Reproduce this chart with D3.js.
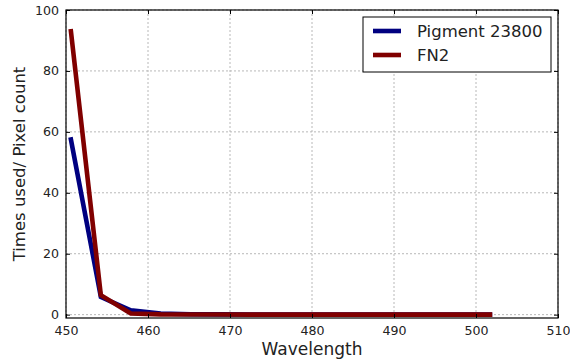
<!DOCTYPE html>
<html>
<head>
<meta charset="utf-8">
<script src="https://cdn.jsdelivr.net/npm/d3@7"></script>
<style>
  html, body { margin: 0; padding: 0; background: #fff; }
  svg { display: block; font-family: "DejaVu Sans", sans-serif; }
</style>
</head>
<body>
<svg id="chart" width="570" height="362"></svg>
<script>
// Wavelength samples (nm) and per-series counts
const wavelengths = [450.6, 454.25, 457.9, 461.55, 465.2, 468.85, 472.5, 476.15, 479.8, 483.45, 487.1, 490.75, 494.4, 498.05, 501.7];
const pigmentValues = [57.5, 5.8, 1.4, 0.4, 0.15, 0.1, 0.05, 0.05, 0.03, 0.02, 0.02, 0.01, 0.01, 0.01, 0.01];
const fn2Values = [93.0, 6.4, 0.4, 0.1, 0.05, 0.03, 0.02, 0.01, 0.01, 0.01, 0.01, 0.01, 0.0, 0.0, 0.0];
const seriesNames = ["Pigment 23800", "FN2"];
const xTicks = [450, 460, 470, 480, 490, 500, 510];
const yTicks = [0, 20, 40, 60, 80, 100];

const margin = { left: 66, right: 12, top: 10, bottom: 44 };
const W = 570, H = 362;
const svg = d3.select("#chart");

const x = d3.scaleLinear().domain([450, 510]).range([margin.left, W - margin.right]);
const y = d3.scaleLinear().domain([-1.1, 100]).range([H - margin.bottom, margin.top]);

const x0 = x.range()[0], x1 = x.range()[1];
const y0 = y.range()[0], y1 = y.range()[1];

// Grid lines
const grid = svg.append("g");
grid.selectAll("line.gx").data(xTicks).join("line")
  .attr("x1", d => x(d)).attr("x2", d => x(d))
  .attr("y1", y1).attr("y2", y0)
  .attr("stroke", "#b8b8b8").attr("stroke-width", 1).attr("stroke-dasharray", "2,2");
grid.selectAll("line.gy").data(yTicks).join("line")
  .attr("x1", x0).attr("x2", x1)
  .attr("y1", d => y(d)).attr("y2", d => y(d))
  .attr("stroke", "#b8b8b8").attr("stroke-width", 1).attr("stroke-dasharray", "2,2");

// Data lines
const line = d3.line().x(d => x(d[0])).y(d => y(d[1]));
svg.append("clipPath").attr("id", "plotclip").append("rect")
  .attr("x", x0).attr("y", y1).attr("width", x1 - x0).attr("height", y0 - y1);
const series = [
  { name: seriesNames[0], values: pigmentValues, color: "#000080" },
  { name: seriesNames[1], values: fn2Values, color: "#800000" }
];
svg.append("g").attr("clip-path", "url(#plotclip)")
  .selectAll("path").data(series).join("path")
  .attr("d", s => line(wavelengths.map((w, i) => [w, s.values[i]])))
  .attr("fill", "none").attr("stroke", s => s.color)
  .attr("stroke-width", 4.6).attr("stroke-linejoin", "miter").attr("stroke-linecap", "square");

// Axes with inward ticks on all four sides
const xAxisB = d3.axisBottom(x).tickValues(xTicks).tickSize(-4).tickPadding(8).tickFormat(d3.format("d"));
const xAxisT = d3.axisTop(x).tickValues(xTicks).tickSize(-4).tickFormat("");
const yAxisL = d3.axisLeft(y).tickValues(yTicks).tickSize(-4).tickPadding(7).tickFormat(d3.format("d"));
const yAxisR = d3.axisRight(y).tickValues(yTicks).tickSize(-4).tickFormat("");

function style(g) {
  g.select(".domain").remove();
  g.selectAll(".tick line").attr("stroke", "#000");
  g.selectAll(".tick text").attr("fill", "#222").attr("font-size", 12.6)
    .attr("font-family", "DejaVu Sans, sans-serif");
}
svg.append("g").attr("transform", `translate(0,${y0})`).call(xAxisB).call(style);
svg.append("g").attr("transform", `translate(0,${y1})`).call(xAxisT).call(style);
svg.append("g").attr("transform", `translate(${x0},0)`).call(yAxisL).call(style);
svg.append("g").attr("transform", `translate(${x1},0)`).call(yAxisR).call(style);

// Frame
svg.append("rect").attr("x", x0).attr("y", y1).attr("width", x1 - x0).attr("height", y0 - y1)
  .attr("fill", "none").attr("stroke", "#000").attr("stroke-width", 1.2);

// Axis titles
svg.append("text").attr("x", (x0 + x1) / 2).attr("y", 355)
  .attr("text-anchor", "middle").attr("font-size", 17).attr("fill", "#222")
  .text("Wavelength");
svg.append("text").attr("transform", `translate(25,${(y0 + y1) / 2}) rotate(-90)`)
  .attr("text-anchor", "middle").attr("font-size", 16.5).attr("fill", "#222")
  .text("Times used/ Pixel count");

// Legend
const lg = svg.append("g").attr("transform", "translate(363,17)");
lg.append("rect").attr("width", 188).attr("height", 55)
  .attr("fill", "#fff").attr("stroke", "#000").attr("stroke-width", 1);
lg.selectAll("line").data(series).join("line")
  .attr("x1", 10).attr("x2", 38)
  .attr("y1", (d, i) => 14 + i * 24).attr("y2", (d, i) => 14 + i * 24)
  .attr("stroke", d => d.color).attr("stroke-width", 4.6);
lg.selectAll("text").data(series).join("text")
  .attr("x", 54).attr("y", (d, i) => 14 + i * 24).attr("dy", "0.35em")
  .attr("font-size", 16.5).attr("fill", "#222")
  .text(d => d.name);
</script>
</body>
</html>
